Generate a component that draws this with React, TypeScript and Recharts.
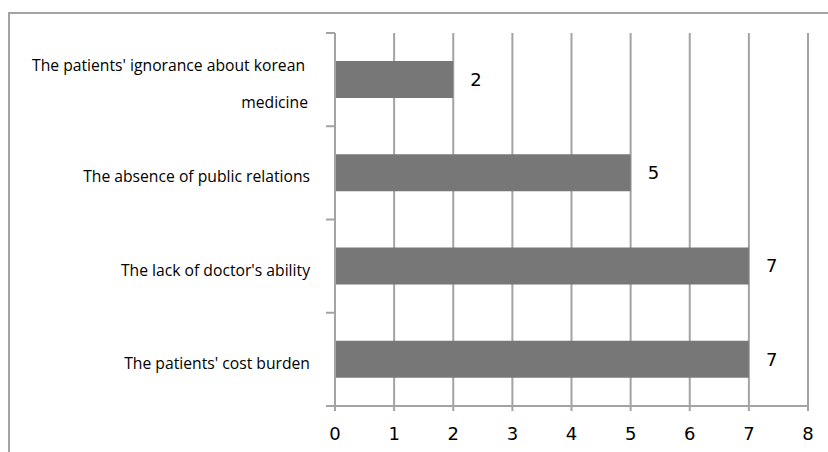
import { Bar, BarChart, CartesianGrid, LabelList, XAxis, YAxis } from "recharts";

const reasons = [
  "The patients' ignorance about korean medicine",
  "The absence of public relations",
  "The lack of doctor's ability",
  "The patients' cost burden",
];

const counts = [2, 5, 7, 7];

const xTicks = [0, 1, 2, 3, 4, 5, 6, 7, 8];

const data = reasons.map((reason, i) => ({ reason, count: counts[i] }));

const GRAY = "#a3a3a3";
const PLOT_TOP = 33;
const PLOT_BOTTOM = 406;
const AXIS_X = 335;
const BAND = (PLOT_BOTTOM - PLOT_TOP) / reasons.length;

// category label, wrapped like the original, plus the short marks at band edges
const ReasonTick = (props: any) => {
  const { y, payload, index } = props;
  const text: string = payload.value;
  const wrapped = text.length > 34;
  const lines = wrapped
    ? ["The patients' ignorance about korean", "medicine"]
    : [text];
  const lineGap = 37;
  const startY = y + 4 - ((lines.length - 1) * lineGap) / 2;
  return (
    <g>
      <line
        x1={AXIS_X - 9}
        x2={AXIS_X}
        y1={y - BAND / 2}
        y2={y - BAND / 2}
        stroke={GRAY}
        strokeWidth={2}
      />
      {index === reasons.length - 1 && (
        <line
          x1={AXIS_X - 9}
          x2={AXIS_X}
          y1={y + BAND / 2}
          y2={y + BAND / 2}
          stroke={GRAY}
          strokeWidth={2}
        />
      )}
      {lines.map((line, i) => (
        <text
          key={i}
          x={wrapped ? (i === 0 ? AXIS_X - 30 : AXIS_X - 27) : AXIS_X - 25}
          y={startY + i * lineGap}
          dy="0.35em"
          textAnchor="end"
          fontFamily="Open Sans"
          fontSize={15.7}
          fill="#000"
        >
          {line}
        </text>
      ))}
    </g>
  );
};

export default function App() {
  return (
    <div
      style={{
        position: "absolute",
        left: 0,
        top: 0,
        width: 828,
        height: 452,
        overflow: "hidden",
        background: "#fff",
      }}
    >
      <div
        style={{
          position: "absolute",
          left: 8,
          top: 12,
          width: 840,
          height: 460,
          border: `2px solid ${GRAY}`,
        }}
      />
      <div style={{ position: "absolute", left: 0, top: 0 }}>
        <BarChart
          width={828}
          height={452}
          data={data}
          layout="vertical"
          margin={{ top: PLOT_TOP, right: 20, bottom: 0, left: 0 }}
          barCategoryGap="30%"
        >
          <CartesianGrid
            horizontal={false}
            stroke={GRAY}
            strokeWidth={2}
            strokeDasharray=""
          />
          <XAxis
            type="number"
            domain={[0, 8]}
            ticks={xTicks}
            interval={0}
            height={452 - PLOT_BOTTOM}
            axisLine={{ stroke: GRAY, strokeWidth: 2 }}
            tickLine={{ stroke: GRAY, strokeWidth: 2 }}
            tickSize={5}
            tickMargin={16}
            tick={{ fill: "#000", fontSize: 18, fontFamily: "DejaVu Sans" }}
          />
          <YAxis
            type="category"
            dataKey="reason"
            width={AXIS_X}
            axisLine={{ stroke: GRAY, strokeWidth: 2 }}
            tickLine={false}
            interval={0}
            tick={<ReasonTick />}
          />
          <Bar dataKey="count" fill="#777777" isAnimationActive={false}>
            <LabelList
              dataKey="count"
              position="right"
              offset={17}
              fill="#000"
              fontSize={18}
              fontFamily="DejaVu Sans"
            />
          </Bar>
        </BarChart>
      </div>
    </div>
  );
}
